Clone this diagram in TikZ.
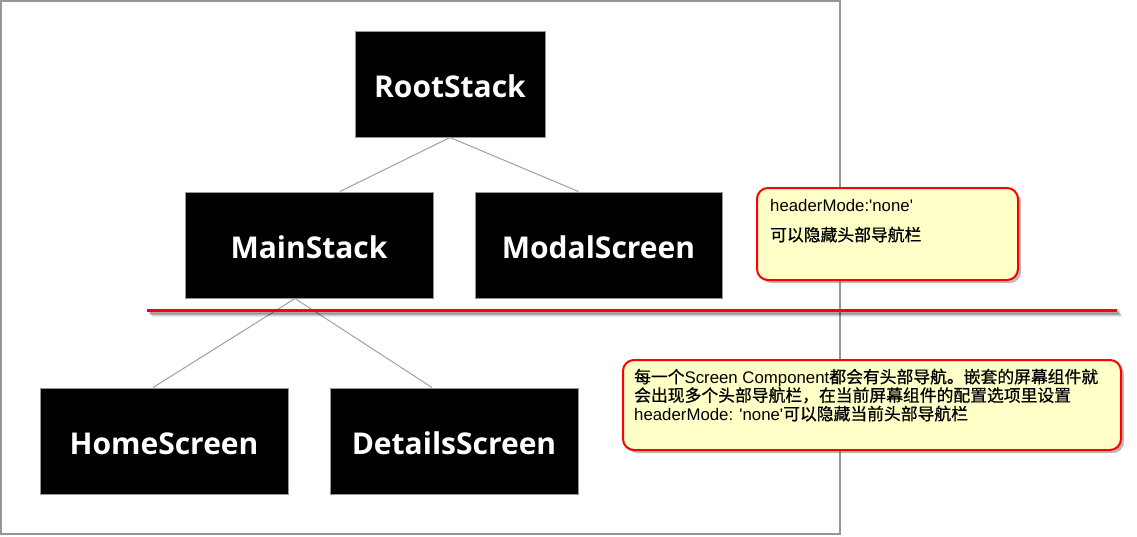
\documentclass[tikz,border=0pt]{standalone}
\usepackage{fontspec}
\setmainfont{Liberation Sans}[Ligatures=TeXOff]
\newfontfamily\boxfont{Open Sans}
\newfontfamily\cjk{Noto Sans CJK SC}[FakeBold=0.7]
\usetikzlibrary{shadows}
\definecolor{noteyellow}{RGB}{255,255,200}
\definecolor{framegray}{RGB}{150,150,150}
\definecolor{linegray}{RGB}{160,160,160}
\tikzset{
  stackbox/.style={fill=black, draw=framegray, line width=1pt, text=white,
    minimum width=248pt, minimum height=106pt, inner sep=0pt,
    text height=26pt, text depth=0pt,
    font=\boxfont\bfseries\fontsize{30}{34}\selectfont},
  link/.style={draw=linegray, line width=1pt},
  notebox/.style={draw=red, line width=2pt, fill=noteyellow, rounded corners=11pt,
    inner sep=0pt, drop shadow={shadow xshift=3pt, shadow yshift=-3pt, opacity=0.45, fill=black!60}},
  notetext/.style={anchor=base west, inner sep=0pt, font=\fontsize{16.8}{18.5}\selectfont},
}
\begin{document}
\begin{tikzpicture}[x=1pt, y=-1pt]
\useasboundingbox (0,0) rectangle (1137,536);
\draw[framegray, line width=2pt] (1,1) rectangle (840,534);

\node[stackbox, minimum width=190pt] (root) at (450,84) {RootStack};
\node[stackbox] (main) at (309,245) {MainStack};
\node[stackbox, minimum width=247pt] (modal) at (598.5,245) {ModalScreen};
\node[stackbox] (home) at (164,441) {HomeScreen};
\node[stackbox] (details) at (454,441) {DetailsScreen};

\draw[link] (root.south) -- ([xshift=31pt]main.north);
\draw[link] (root.south) -- ([xshift=-20pt]modal.north);
\draw[link] ([xshift=-14pt]main.south) -- ([xshift=-11pt]home.north);
\draw[link] ([xshift=-14pt]main.south) -- ([xshift=-22pt]details.north);

% separator line with soft shadow
\coordinate (sepA) at (147,310);
\coordinate (sepB) at (1117,310);
\foreach \d/\o in {5/0.08,4/0.12,3/0.16,2/0.2}{
  \draw[black, line width=3pt, opacity=\o] ([shift={(\d pt,-\d pt)}]sepA) -- ([shift={(\d pt,-\d pt)}]sepB);
}
\draw[red, line width=3pt] (sepA) -- (sepB);

% note 1
\node[notebox, minimum width=261pt, minimum height=92pt] (note1) at (887.5,234) {};
\node[notetext] (n1a) at (770,211) {headerMode:'none'};
\node[notetext] (n1b) at (770,241) {\cjk 可以隐藏头部导航栏};

% note 2
\node[notebox, minimum width=498pt, minimum height=90pt] (note2) at (872,405) {};
\node[notetext] (n2a) at (634,383) {{\cjk 每一个}Screen Component{\cjk 都会有头部导航。嵌套的屏幕组件就}};
\node[notetext] (n2b) at (634,401.5) {\cjk 会出现多个头部导航栏，在当前屏幕组件的配置选项里设置};
\node[notetext] (n2c) at (634,420) {headerMode: 'none'{\cjk 可以隐藏当前头部导航栏}};
\end{tikzpicture}
\end{document}
